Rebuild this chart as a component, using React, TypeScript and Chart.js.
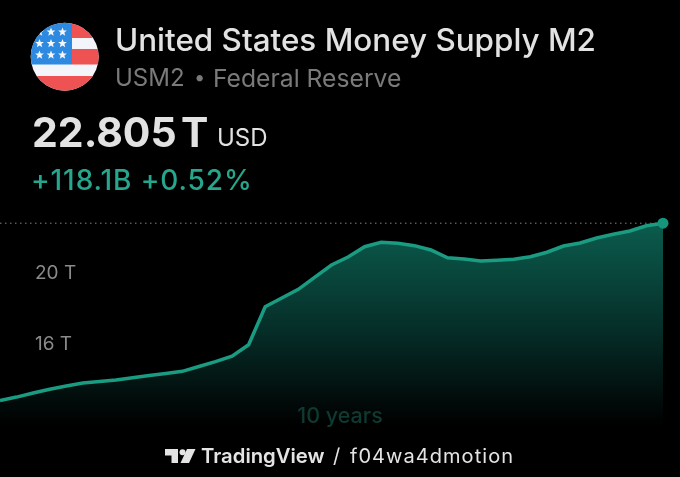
import React, { useEffect, useRef } from "react";
import { Chart, registerables } from "chart.js";

Chart.register(...registerables);

const quarters: string[] = [];
for (const year of [2014, 2015, 2016, 2017, 2018, 2019, 2020, 2021, 2022, 2023, 2024]) {
  for (const q of ["Q1", "Q2", "Q3", "Q4"]) quarters.push(`${q} ${year}`);
}
const categories = quarters.slice(0, 41);

const m2Trillions = [
  12.81, 13.01, 13.24, 13.45, 13.63, 13.8, 13.89, 13.97, 14.1, 14.23, 14.34,
  14.46, 14.73, 15.01, 15.32, 15.96, 18.1, 18.59, 19.08, 19.77, 20.45, 20.9,
  21.48, 21.73, 21.67, 21.54, 21.3, 20.86, 20.79, 20.68, 20.72, 20.77, 20.92,
  21.17, 21.52, 21.69, 21.97, 22.18, 22.37, 22.66, 22.805,
];
const yTicks = [16, 20];
const lastValue = 22.805;

const FONT = "Inter, 'Noto Sans', sans-serif";

const lastPriceLine = {
  id: "lastPriceLine",
  beforeDatasetsDraw(chart: any) {
    const { ctx, scales } = chart;
    const y = scales.y.getPixelForValue(lastValue);
    ctx.save();
    ctx.strokeStyle = "#808080";
    ctx.lineWidth = 1;
    ctx.setLineDash([1.5, 3.5]);
    ctx.beginPath();
    ctx.moveTo(scales.x.left, y);
    ctx.lineTo(scales.x.right, y);
    ctx.stroke();
    ctx.restore();
  },
};

function Txt(props: { x: number; y: number; size: number; color: string; weight?: number; children: any; center?: boolean; spacing?: number }) {
  return (
    <div
      style={{
        position: "absolute",
        left: props.x,
        top: props.y,
        fontFamily: FONT,
        fontSize: props.size,
        color: props.color,
        fontWeight: props.weight ?? 400,
        lineHeight: 1,
        whiteSpace: "nowrap",
        letterSpacing: props.spacing ?? 0,
        transform: props.center ? "translate(-50%,0)" : undefined,
      }}
    >
      {props.children}
    </div>
  );
}

const starPts = "0,-4.6 1.2,-1.5 4.4,-1.4 1.9,0.6 2.7,3.7 0,1.9 -2.7,3.7 -1.9,0.6 -4.4,-1.4 -1.2,-1.5";

function Flag() {
  const stars: [number, number][] = [];
  for (const y of [32, 43.5, 55]) for (const x of [39.5, 51, 62.5]) stars.push([x, y]);
  return (
    <svg width={680} height={110} style={{ position: "absolute", left: 0, top: 0 }}>
      <defs>
        <clipPath id="flagClip">
          <circle cx={64.7} cy={56.7} r={34} />
        </clipPath>
      </defs>
      <g clipPath="url(#flagClip)">
        <rect x={30} y={22} width={70} height={70} fill="#f3f5fa" />
        <rect x={72} y={22} width={28} height={16} fill="#ee5253" />
        <rect x={72} y={49} width={28} height={15.5} fill="#ee5253" />
        <rect x={30} y={76} width={70} height={16} fill="#ee5253" />
        <rect x={30} y={22} width={42} height={42.5} fill="#2d8ae0" />
        {stars.map(([x, y], i) => (
          <polygon key={i} points={starPts} transform={`translate(${x},${y})`} fill="#f4f6fa" />
        ))}
      </g>
    </svg>
  );
}

function Logo() {
  return (
    <svg width={34} height={18} viewBox="0 0 34 18" style={{ position: "absolute", left: 165, top: 448 }}>
      <path d="M0 1H13V15H6.5V7.5H0Z" fill="#e4e4e4" />
      <circle cx={17.5} cy={4.2} r={3} fill="#e4e4e4" />
      <path d="M22 1H30.5L24 15H15.5Z" fill="#e4e4e4" />
    </svg>
  );
}

export default function App() {
  const ref = useRef<HTMLCanvasElement>(null);
  useEffect(() => {
    const canvas = ref.current!;
    const ctx = canvas.getContext("2d")!;
    const grad = ctx.createLinearGradient(0, 224, 0, 425);
    grad.addColorStop(0, "#0b5c4d");
    grad.addColorStop(0.5, "#06302a");
    grad.addColorStop(1, "#000000");
    const chart = new Chart(canvas, {
      type: "line",
      data: {
        labels: categories,
        datasets: [
          {
            label: "USM2",
            data: m2Trillions,
            borderColor: "#1a9c82",
            borderWidth: 3.5,
            tension: 0,
            fill: "start",
            backgroundColor: grad,
            pointRadius: (c: any) => (c.dataIndex === m2Trillions.length - 1 ? 5.5 : 0),
            pointBackgroundColor: "#14957c",
            pointBorderWidth: 0,
            clip: false as any,
          },
        ],
      },
      options: {
        animation: false,
        responsive: false,
        devicePixelRatio: 1,
        layout: { autoPadding: false, padding: { left: 0, right: 17, top: 200, bottom: 52 } },
        plugins: { legend: { display: false }, tooltip: { enabled: false } },
        scales: {
          x: {
            type: "category",
            display: false,
            offset: false,
          },
          y: {
            type: "linear",
            min: 11.437,
            max: 24.113,
            grid: { display: false },
            border: { display: false },
            afterFit: (axis: any) => {
              axis.width = 0;
            },
            afterBuildTicks: (axis: any) => {
              axis.ticks = yTicks.map((value) => ({ value }));
            },
            ticks: {
              mirror: true,
              padding: 35,
              color: "#8a8a8a",
              font: { family: FONT, size: 19 },
              callback: (v: any) => `${v} T`,
            },
          },
        },
      },
      plugins: [lastPriceLine],
    });
    return () => chart.destroy();
  }, []);

  return (
    <div style={{ position: "fixed", left: 0, top: 0, width: 680, height: 477, background: "#000", overflow: "hidden" }}>
      <canvas ref={ref} width={680} height={477} style={{ position: "absolute", left: 0, top: 0, width: 680, height: 477 }} />
      <Flag />
      <Txt x={115} y={25} size={31.4} color="#e2e2e2" weight={500}>United States Money Supply M2</Txt>
      <Txt x={115} y={66} size={24} color="#7a7a7a">USM2</Txt>
      <Txt x={194} y={67} size={20} color="#7a7a7a">•</Txt>
      <Txt x={213} y={66} size={24.7} color="#7a7a7a">Federal Reserve</Txt>
      <Txt x={32} y={112} size={41} color="#e2e2e2" weight={700}>22.805</Txt>
      <Txt x={181} y={112} size={41} color="#e2e2e2" weight={700}>T</Txt>
      <Txt x={217} y={126} size={24} color="#e2e2e2">USD</Txt>
      <Txt x={31} y={166} size={28} color="#26a68c" weight={500} spacing={0.9}>+118.1B +0.52%</Txt>
      <Txt x={340} y={405} size={21.5} color="#0e3a31" weight={500} center>10 years</Txt>
      <Logo />
      <Txt x={201} y={446} size={20.3} color="#e4e4e4" weight={600}>TradingView</Txt>
      <Txt x={333} y={446} size={20} color="#e4e4e4">/</Txt>
      <Txt x={350} y={446} size={20} color="#e4e4e4" spacing={1.05}>f04wa4dmotion</Txt>
    </div>
  );
}
